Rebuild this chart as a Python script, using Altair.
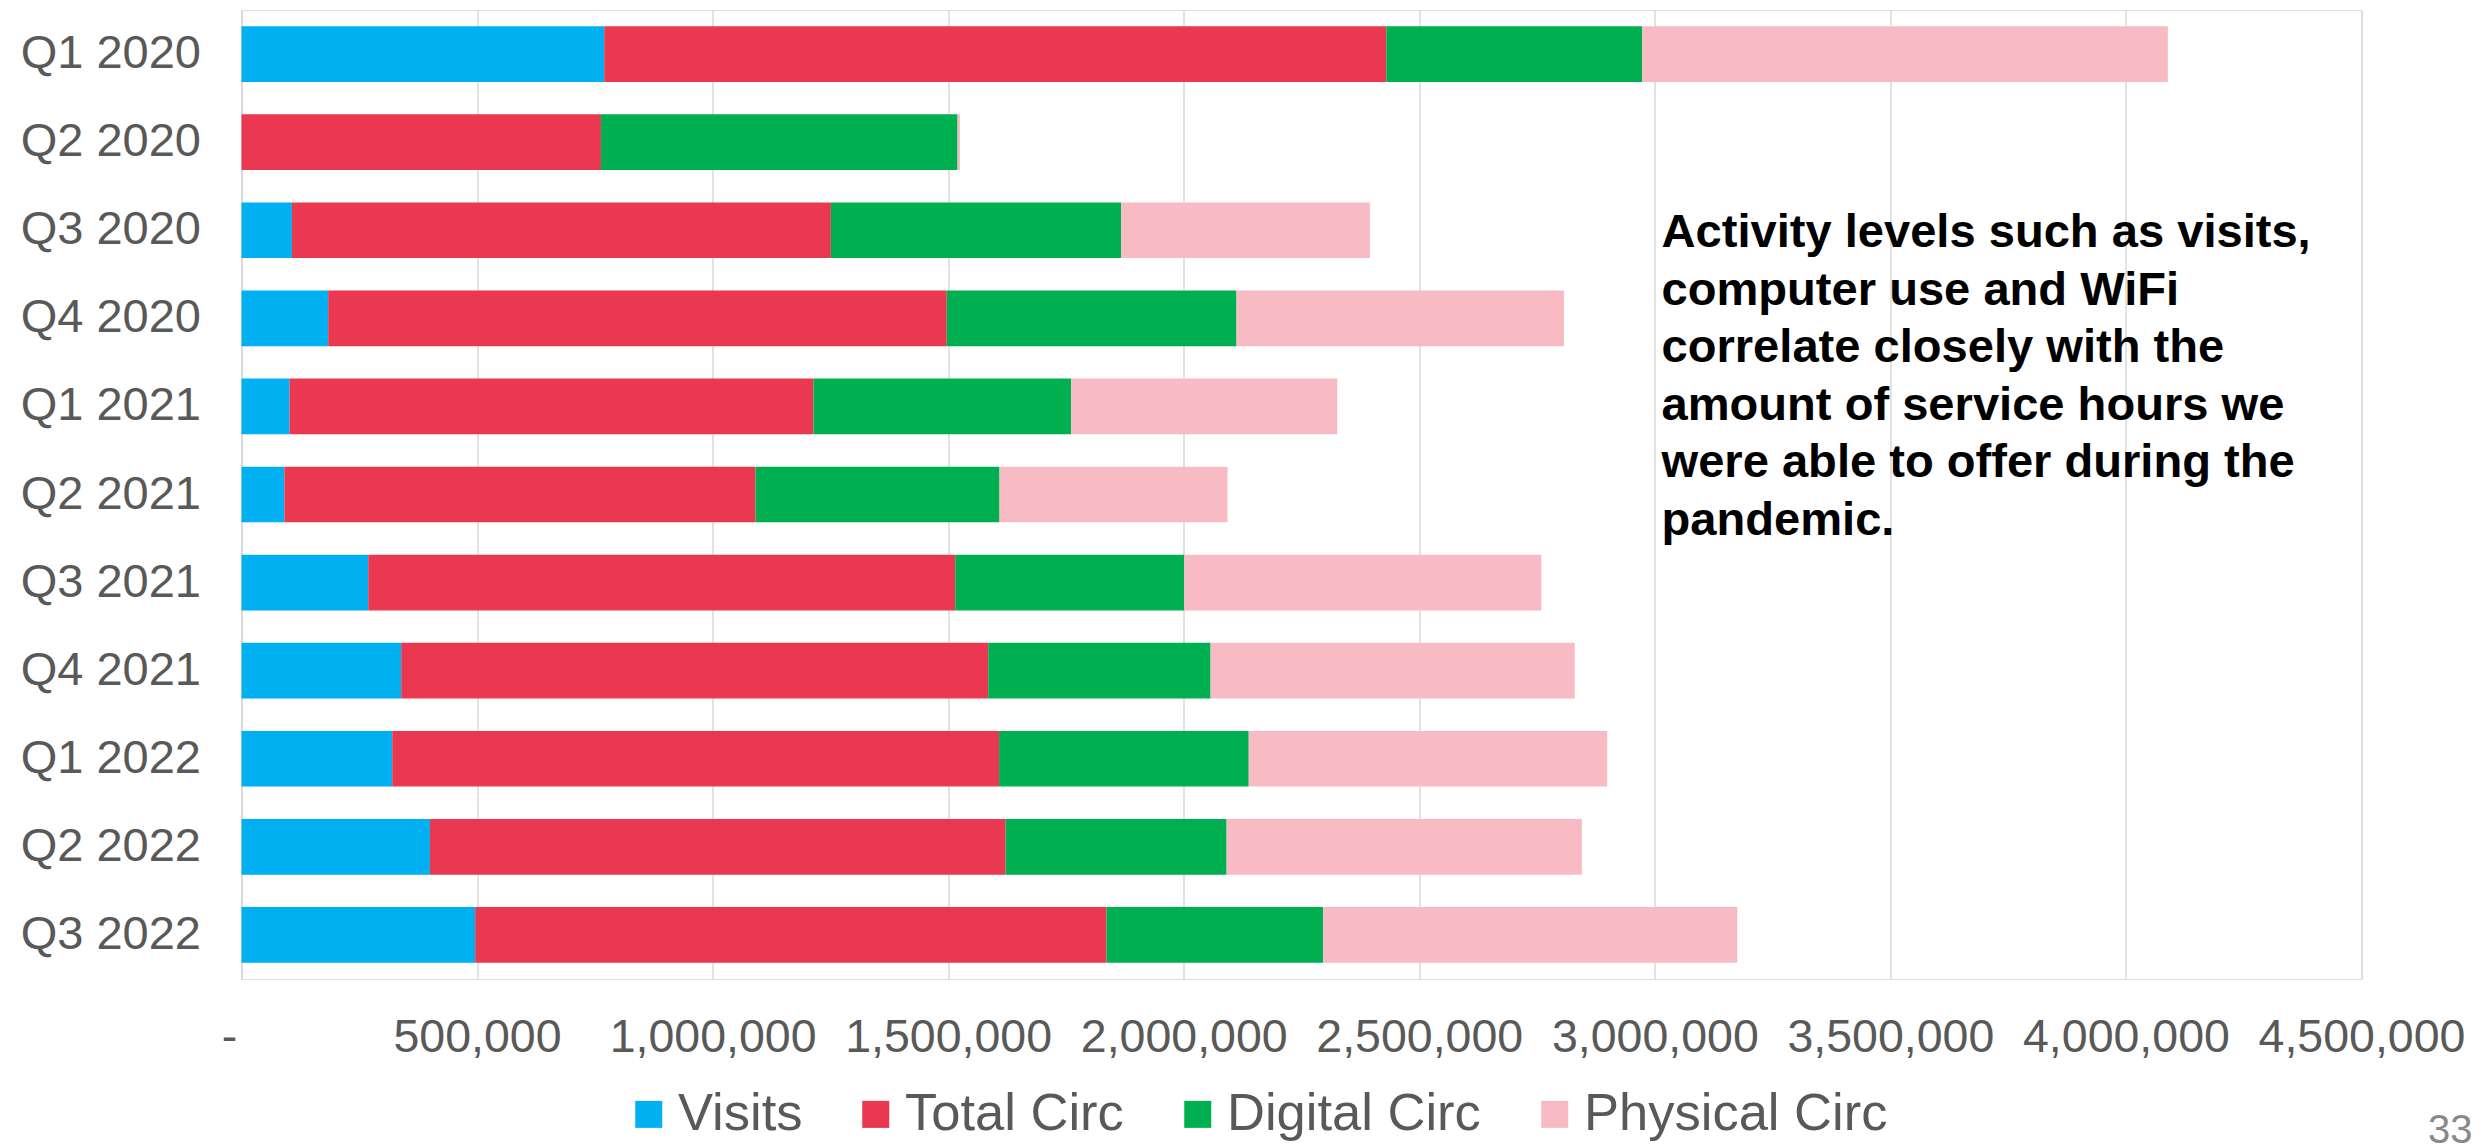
import altair as alt
import pandas as pd

quarters = ["Q1 2020", "Q2 2020", "Q3 2020", "Q4 2020", "Q1 2021", "Q2 2021",
            "Q3 2021", "Q4 2021", "Q1 2022", "Q2 2022", "Q3 2022"]
series = ["Visits", "Total Circ", "Digital Circ", "Physical Circ"]
visits = [770000, 0, 107000, 184000, 102000, 91000, 269000, 339000, 320000, 400000, 496000]
total_circ = [1660000, 763000, 1144000, 1313000, 1112000, 1000000, 1246000, 1246000, 1288000, 1222000, 1340000]
digital_circ = [543000, 757000, 616000, 615000, 547000, 518000, 486000, 472000, 530000, 469000, 460000]
physical_circ = [1116000, 5000, 528000, 695000, 565000, 484000, 758000, 773000, 761000, 754000, 879000]
colors = ["#00B0F0", "#E9384F", "#00AF50", "#F8BBC3"]
tick_values = [0, 500000, 1000000, 1500000, 2000000, 2500000, 3000000, 3500000, 4000000, 4500000]
note = ("Activity levels such as visits,\ncomputer use and WiFi\ncorrelate closely with the\n"
        "amount of service hours we\nwere able to offer during the\npandemic.")
page_number = "33"

rows = []
for i, q in enumerate(quarters):
    for k, (name, vals) in enumerate(zip(series, [visits, total_circ, digital_circ, physical_circ])):
        rows.append({"quarter": q, "series": name, "value": vals[i], "order": k})
df = pd.DataFrame(rows)

FONT = "Liberation Sans"

bars = alt.Chart(df).mark_bar().encode(
    x=alt.X("value:Q", stack="zero",
            scale=alt.Scale(domain=[0, 4500000], nice=False),
            axis=alt.Axis(values=tick_values,
                          labelExpr="datum.value == 0 ? '-' : format(datum.value, ',')",
                          labelOffset={"condition": {"test": "datum.value === 0", "value": -12.5},
                                       "value": 0},
                          title=None, grid=True, gridColor="#d9d9d9", gridWidth=1.5,
                          domain=False, ticks=False, labelFontSize=46.5,
                          labelColor="#595959", labelPadding=35, labelFont=FONT,
                          labelOverlap=False, labelFlush=False, labelLimit=1000)),
    y=alt.Y("quarter:N", sort=quarters,
            scale=alt.Scale(paddingInner=0.368, paddingOuter=0.184),
            axis=alt.Axis(title=None, ticks=False, domain=True, domainColor="#d9d9d9",
                          domainWidth=1.5, labelFontSize=47, labelColor="#595959",
                          labelPadding=41, grid=False, labelFont=FONT,
                          labelLimit=1000)),
    color=alt.Color("series:N", sort=series,
                    scale=alt.Scale(domain=series, range=colors),
                    legend=alt.Legend(orient="none", legendX=381, legendY=1078,
                                      direction="horizontal", title=None,
                                      symbolType="square", symbolSize=729,
                                      symbolStrokeWidth=0, labelFontSize=52.5,
                                      labelColor="#595959", labelOffset=3,
                                      columnPadding=47, labelFont=FONT,
                                      labelLimit=1000)),
    order=alt.Order("order:Q"),
)

note_layer = alt.Chart(pd.DataFrame({"t": [note]})).mark_text(
    align="left", baseline="alphabetic", fontSize=47.1, fontWeight="bold",
    font=FONT, color="black", lineBreak="\n", lineHeight=57.5
).encode(x=alt.value(1420), y=alt.value(237), text="t:N")

page_layer = alt.Chart(pd.DataFrame({"t": [page_number]})).mark_text(
    align="right", baseline="alphabetic", fontSize=40, font=FONT, color="#898989"
).encode(x=alt.value(2231), y=alt.value(1133), text="t:N")

chart = alt.layer(bars, note_layer, page_layer).properties(
    width=2120, height=969,
    autosize=alt.AutoSizeParams(type="none"),
    padding={"left": 233.5, "top": 2, "right": 114.5, "bottom": 166},
).configure_view(stroke=None).configure(background="white")

chart.save("out.html", embed_options={"renderer": "svg", "actions": False})
